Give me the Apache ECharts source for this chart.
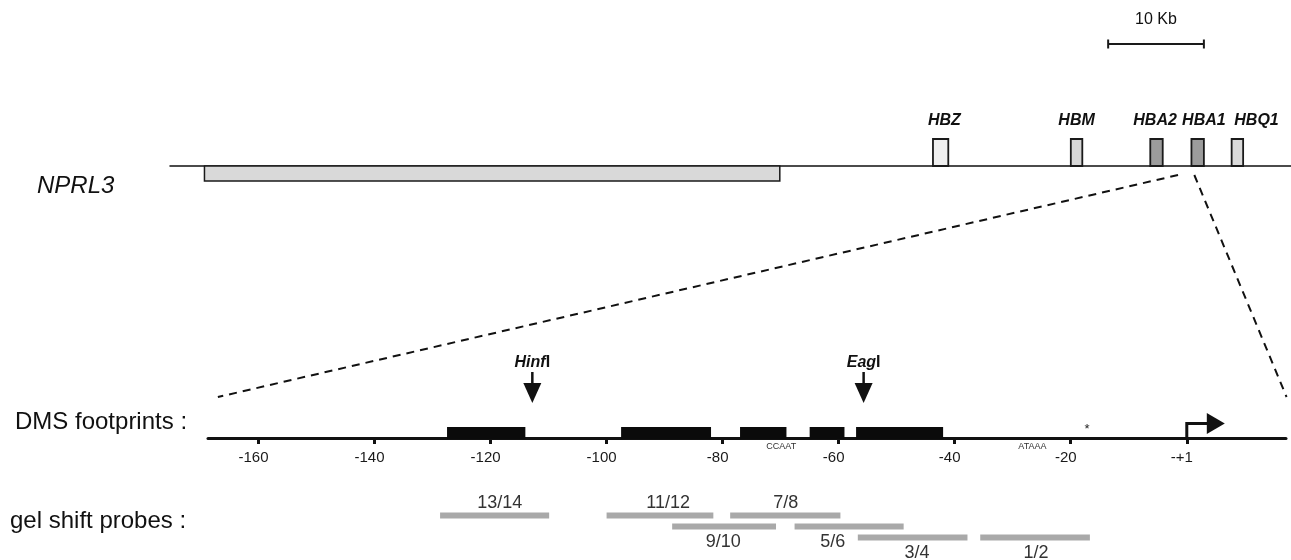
<!DOCTYPE html>
<html>
<head>
<meta charset="utf-8">
<script src="https://cdn.jsdelivr.net/npm/echarts@6/dist/echarts.min.js"></script>
<style>
  html, body { margin: 0; background: #fff; }
  #chart { width: 1291px; height: 560px; }
</style>
</head>
<body>
<div id="chart"></div>
<script>
// top locus, kb from the left end of the line
const geneNames = ["HBZ", "HBM", "HBA2", "HBA1", "HBQ1"];
const geneStart = [79.7, 94.1, 102.4, 106.7, 110.9];
const geneEnd = [81.3, 95.3, 103.7, 108.0, 112.1];
const geneLabelAt = [80.9, 94.7, 102.9, 108.0, 113.5];
const nprl3Span = [3.6, 63.7];
const scaleBar = [98.0, 108.0];
const zoomFrom = [105.3, 107.0]; // kb on the locus
const zoomTo = [-167, 17.2]; // bp on the promoter

// promoter, bp relative to +1
const tickValues = [-160, -140, -120, -100, -80, -60, -40, -20, 0];
const footStart = [-127.5, -97.5, -77, -65, -57];
const footEnd = [-114, -82, -69, -59, -42];
const siteNames = ["Hinf", "Eag"];
const sitePos = [-112.8, -55.7];
const motifNames = ["CCAAT", "ATAAA"];
const motifPos = [-69.9, -26.6];
const starPos = [-17.2];
const tssPos = [0];

// gel shift probes
const probeNames = ["13/14", "11/12", "7/8", "9/10", "5/6", "3/4", "1/2"];
const probeStart = [-128.7, -100, -78.7, -88.7, -67.6, -56.7, -35.6];
const probeEnd = [-109.9, -81.6, -59.7, -70.8, -48.8, -37.8, -16.7];
const probeRow = [0, 0, 0, 1, 1, 2, 2];
const probeLabelAt = [-118.4, -89.4, -69.1, -79.9, -61.0, -46.5, -26.0];

const geneFill = ["#efefef", "#d6d6d6", "#9c9c9c", "#9c9c9c", "#dadada"];
const FONT = "Liberation Sans";
const chart = echarts.init(document.getElementById("chart"));

const option = {
  animation: false,
  grid: [
    { left: 170, right: 0, top: 44, height: 122 },
    { left: 208, right: 5, top: 360, height: 78 },
    { left: 208, right: 5, top: 510, height: 33 }
  ],
  xAxis: [
    {
      gridIndex: 0, type: "value", min: 0, max: 117.1,
      axisLine: { onZero: false, lineStyle: { color: "#111", width: 1.5 } },
      axisTick: { show: false }, axisLabel: { show: false }, splitLine: { show: false }
    },
    {
      gridIndex: 1, type: "value", min: -168.7, max: 17.1,
      axisLine: { onZero: false, lineStyle: { color: "#111", width: 3 } },
      axisTick: { customValues: tickValues, length: 6, lineStyle: { color: "#111", width: 3 } },
      axisLabel: {
        customValues: tickValues,
        formatter: v => (v === 0 ? "-+1" : String(v)),
        fontFamily: FONT, fontSize: 15, color: "#1a1a1a", margin: 12,
        padding: [0, 10, 0, 0]
      },
      splitLine: { show: false }
    },
    { gridIndex: 2, type: "value", min: -168.7, max: 17.1, show: false }
  ],
  yAxis: [
    { gridIndex: 0, type: "value", min: 0, max: 1, show: false },
    { gridIndex: 1, type: "value", min: 0, max: 1, show: false },
    { gridIndex: 2, type: "value", min: 0, max: 3, inverse: true, show: false }
  ],
  series: [
    {
      // NPRL3 gene body under the line
      type: "custom", xAxisIndex: 0, yAxisIndex: 0,
      data: [nprl3Span],
      renderItem(params, api) {
        const a = api.coord([api.value(0), 0]);
        const b = api.coord([api.value(1), 0]);
        return {
          type: "rect",
          shape: { x: a[0], y: a[1], width: b[0] - a[0], height: 15 },
          style: { fill: "#d9d9d9", stroke: "#1a1a1a", lineWidth: 1.5 }
        };
      }
    },
    {
      // globin genes above the line
      type: "custom", xAxisIndex: 0, yAxisIndex: 0,
      data: geneNames.map((n, i) => [geneStart[i], geneEnd[i], geneLabelAt[i], i]),
      renderItem(params, api) {
        const i = api.value(3);
        const a = api.coord([api.value(0), 0]);
        const b = api.coord([api.value(1), 0]);
        const t = api.coord([api.value(2), 0]);
        return {
          type: "group",
          children: [
            {
              type: "rect",
              shape: { x: a[0], y: a[1] - 27, width: b[0] - a[0], height: 27 },
              style: { fill: geneFill[i], stroke: "#1a1a1a", lineWidth: 1.8 }
            },
            {
              type: "text", x: t[0], y: a[1] - 45,
              style: {
                text: geneNames[i], fill: "#111", font: "italic bold 16px " + FONT,
                align: "center", verticalAlign: "middle"
              }
            }
          ]
        };
      }
    },
    {
      // 10 Kb scale bar
      type: "custom", xAxisIndex: 0, yAxisIndex: 0,
      data: [[scaleBar[0], scaleBar[1], 1]],
      renderItem(params, api) {
        const a = api.coord([api.value(0), api.value(2)]);
        const b = api.coord([api.value(1), api.value(2)]);
        const s = { stroke: "#1a1a1a", lineWidth: 2 };
        return {
          type: "group",
          children: [
            { type: "line", shape: { x1: a[0], y1: a[1], x2: b[0], y2: b[1] }, style: s },
            { type: "line", shape: { x1: a[0], y1: a[1] - 4.5, x2: a[0], y2: a[1] + 4.5 }, style: s },
            { type: "line", shape: { x1: b[0], y1: b[1] - 4.5, x2: b[0], y2: b[1] + 4.5 }, style: s },
            {
              type: "text", x: (a[0] + b[0]) / 2, y: a[1] - 24,
              style: { text: "10 Kb", fill: "#111", font: "16px " + FONT, align: "center", verticalAlign: "middle" }
            }
          ]
        };
      }
    },
    {
      // DMS footprints
      type: "custom", xAxisIndex: 1, yAxisIndex: 1,
      data: footStart.map((s, i) => [s, footEnd[i]]),
      renderItem(params, api) {
        const a = api.coord([api.value(0), 0]);
        const b = api.coord([api.value(1), 0]);
        return {
          type: "rect",
          shape: { x: a[0], y: a[1] - 11, width: b[0] - a[0], height: 12 },
          style: { fill: "#0b0b0b" }
        };
      }
    },
    {
      // restriction sites
      type: "custom", xAxisIndex: 1, yAxisIndex: 1,
      data: sitePos.map((p, i) => [p, i]),
      renderItem(params, api) {
        const p = api.coord([api.value(0), 0]);
        const x = p[0], y = p[1];
        return {
          type: "group",
          children: [
            { type: "line", shape: { x1: x, y1: y - 66, x2: x, y2: y - 53 }, style: { stroke: "#111", lineWidth: 2.5 } },
            { type: "polygon", shape: { points: [[x - 9, y - 55], [x + 9, y - 55], [x, y - 35]] }, style: { fill: "#111" } },
            {
              type: "text", x: x, y: y - 75,
              style: {
                text: "{a|" + siteNames[api.value(1)] + "}{b|I}",
                align: "center", verticalAlign: "middle",
                rich: {
                  a: { font: "italic bold 16px " + FONT, fill: "#111" },
                  b: { font: "bold 16px " + FONT, fill: "#111" }
                }
              }
            }
          ]
        };
      }
    },
    {
      // promoter motifs
      type: "custom", xAxisIndex: 1, yAxisIndex: 1,
      data: motifPos.map((p, i) => [p, i]),
      renderItem(params, api) {
        const p = api.coord([api.value(0), 0]);
        return {
          type: "text", x: p[0], y: p[1] + 9,
          style: { text: motifNames[api.value(1)], fill: "#333", font: "9px " + FONT, align: "center", verticalAlign: "middle" }
        };
      }
    },
    {
      type: "custom", xAxisIndex: 1, yAxisIndex: 1,
      data: starPos.map(p => [p]),
      renderItem(params, api) {
        const p = api.coord([api.value(0), 0]);
        return {
          type: "text", x: p[0], y: p[1] - 9,
          style: { text: "*", fill: "#222", font: "13px " + FONT, align: "center", verticalAlign: "middle" }
        };
      }
    },
    {
      // transcription start
      type: "custom", xAxisIndex: 1, yAxisIndex: 1,
      data: tssPos.map(p => [p]),
      renderItem(params, api) {
        const p = api.coord([api.value(0), 0]);
        const x = p[0], y = p[1];
        return {
          type: "group",
          children: [
            {
              type: "polyline",
              shape: { points: [[x, y], [x, y - 14.5], [x + 24, y - 14.5]] },
              style: { stroke: "#111", lineWidth: 3, fill: null }
            },
            { type: "polygon", shape: { points: [[x + 20, y - 25], [x + 38, y - 14.5], [x + 20, y - 4]] }, style: { fill: "#111" } }
          ]
        };
      }
    },
    {
      // gel shift probes
      type: "custom", xAxisIndex: 2, yAxisIndex: 2,
      data: probeNames.map((n, i) => [probeStart[i], probeEnd[i], probeRow[i] + 0.5, probeLabelAt[i], i]),
      renderItem(params, api) {
        const i = api.value(4);
        const a = api.coord([api.value(0), api.value(2)]);
        const b = api.coord([api.value(1), api.value(2)]);
        const t = api.coord([api.value(3), api.value(2)]);
        const above = probeRow[i] === 0;
        return {
          type: "group",
          children: [
            { type: "rect", shape: { x: a[0], y: a[1] - 3, width: b[0] - a[0], height: 6 }, style: { fill: "#a9a9a9" } },
            {
              type: "text", x: t[0], y: above ? a[1] - 12 : a[1] + 15.5,
              style: { text: probeNames[i], fill: "#333", font: "18px " + FONT, align: "center", verticalAlign: "middle" }
            }
          ]
        };
      }
    }
  ]
};
chart.setOption(option);

// connectors from the HBA1 region down to the promoter axis
const t0 = chart.convertToPixel({ xAxisIndex: 0, yAxisIndex: 0 }, [zoomFrom[0], 0]);
const t1 = chart.convertToPixel({ xAxisIndex: 0, yAxisIndex: 0 }, [zoomFrom[1], 0]);
const b0 = chart.convertToPixel({ xAxisIndex: 1, yAxisIndex: 1 }, [zoomTo[0], 0]);
const b1 = chart.convertToPixel({ xAxisIndex: 1, yAxisIndex: 1 }, [zoomTo[1], 0]);
const dash = { stroke: "#111", lineWidth: 2, lineDash: [8, 6] };

chart.setOption({
  graphic: [
    { type: "line", shape: { x1: t0[0], y1: t0[1] + 9, x2: b0[0], y2: b0[1] - 41 }, style: dash },
    { type: "line", shape: { x1: t1[0], y1: t1[1] + 9, x2: b1[0], y2: b1[1] - 41 }, style: dash },
    {
      type: "text", left: 37, top: 174,
      style: { text: "NPRL3", fill: "#111", font: "italic 24px " + FONT }
    },
    {
      type: "text", left: 15, top: 410,
      style: { text: "DMS footprints :", fill: "#111", font: "24px " + FONT }
    },
    {
      type: "text", left: 10, top: 509,
      style: { text: "gel shift probes :", fill: "#111", font: "24px " + FONT }
    }
  ]
});
</script>
</body>
</html>
